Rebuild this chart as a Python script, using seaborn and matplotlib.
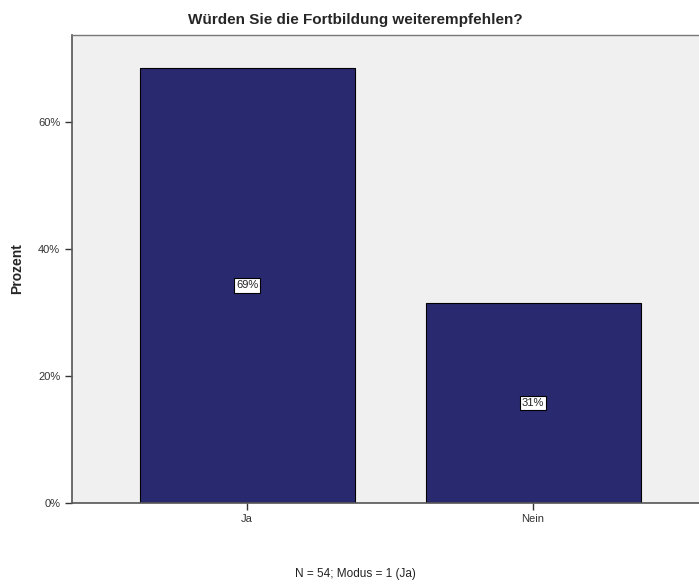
import pandas as pd
import matplotlib
matplotlib.use('Agg')
import matplotlib.pyplot as plt
import seaborn as sns

# data
antworten = ['Ja', 'Nein']
anzahl = [37, 17]
n_gesamt = 54
prozent = [a / n_gesamt * 100 for a in anzahl]
yticks = [0, 20, 40, 60]

sns.set_style('white')
plt.rcParams['font.family'] = ['Liberation Sans', 'DejaVu Sans']

df = pd.DataFrame({'Antwort': antworten, 'Prozent': prozent})

fig = plt.figure(figsize=(6.99, 5.86), dpi=100)
ax = fig.add_axes([72 / 699, 83 / 586, 637 / 699, 468 / 586])
ax.set_facecolor('#f0f0f0')

sns.barplot(data=df, x='Antwort', y='Prozent', color='#29296f', saturation=1,
            width=0.752, edgecolor='black', linewidth=0.8, ax=ax)

# percent labels in white boxes at bar middles
for i, p in enumerate(prozent):
    ax.text(i, p / 2, f'{round(p):.0f}%', ha='center', va='center', fontsize=8,
            color='#222222',
            bbox=dict(boxstyle='square,pad=0.2', fc='white', ec='black', lw=0.8))

ax.set_xlim(-0.612, 1.615)
ax.set_ylim(0, 73.7)
ax.set_yticks(yticks)
ax.set_yticklabels([f'{t}%' for t in yticks])
ax.tick_params(axis='both', labelsize=8, colors='#333333', length=5, width=1,
               direction='out', left=True, bottom=True)
ax.tick_params(axis='x', pad=3)
ax.set_xlabel('')
ax.set_ylabel('Prozent', fontsize=10, fontweight='bold', labelpad=10)

for s in ['left', 'bottom']:
    ax.spines[s].set_color('#555555')
    ax.spines[s].set_linewidth(1.2)
ax.spines['top'].set_color('#777777')
ax.spines['top'].set_linewidth(1.0)
ax.spines['right'].set_visible(False)

fig.text(355 / 699, 1 - 20 / 586, 'Würden Sie die Fortbildung weiterempfehlen?',
         ha='center', va='center', fontsize=11, fontweight='bold')
fig.text(355 / 699, 1 - 574 / 586, 'N = 54; Modus = 1 (Ja)',
         ha='center', va='center', fontsize=8.5, color='#222222')

fig.savefig('out.png', dpi=100)
